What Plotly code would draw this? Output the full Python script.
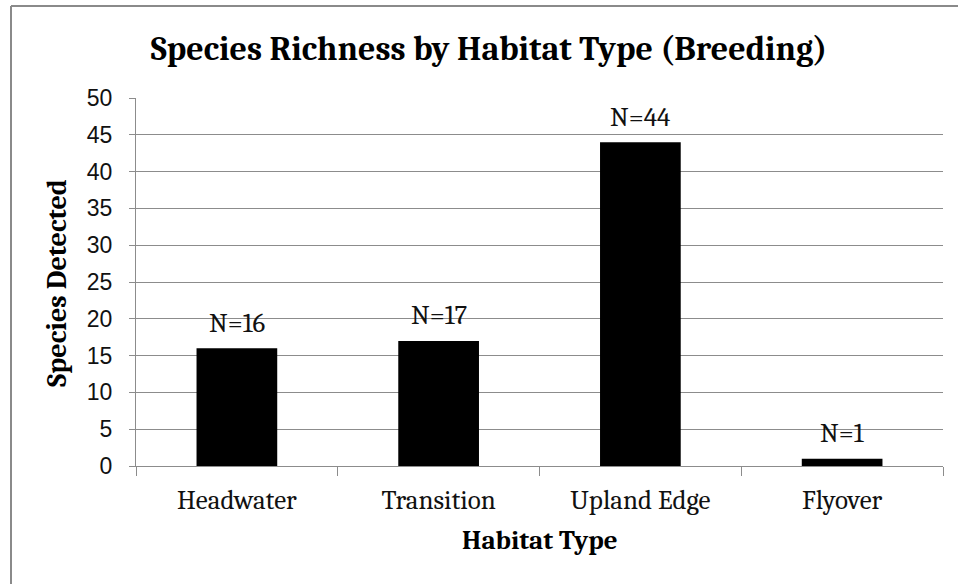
import plotly.graph_objects as go

categories = ["Headwater", "Transition", "Upland Edge", "Flyover"]
species = [16, 17, 44, 1]
labels = ["N=16", "N=17", "N=44", "N=1"]
y_ticks = [0, 5, 10, 15, 20, 25, 30, 35, 40, 45, 50]

SERIF = "Cambria, Caladea, 'DejaVu Serif', serif"
SANS = "'Liberation Sans', Arial, sans-serif"
GRID = "#8c8c8c"

L, R, T, B = 136, 15, 98, 118
PW = 958 - L - R
PH = 584 - T - B

fig = go.Figure()
fig.add_trace(go.Bar(x=categories, y=species, marker=dict(color="black", line=dict(width=0)),
                     hoverinfo="x+y"))

for c, v, t in zip(categories, species, labels):
    fig.add_annotation(x=c, y=v, text=t, showarrow=False, yshift=25,
                       font=dict(family=SERIF, size=27, color="#111"))

fig.update_layout(
    width=958, height=584,
    margin=dict(l=L, r=R, t=T, b=B),
    paper_bgcolor="white", plot_bgcolor="white",
    bargap=0.6,
    showlegend=False,
    title=dict(text="<b>Species Richness by Habitat Type (Breeding)</b>",
               x=489/958, xanchor="center", y=1 - 48/584, yanchor="middle",
               font=dict(family=SERIF, size=34, color="black")),
)
fig.update_xaxes(
    showline=True, linecolor=GRID, linewidth=1,
    ticks="outside", ticklen=9, tickcolor=GRID, tickson="boundaries",
    tickfont=dict(family=SERIF, size=27, color="#111"),
    ticklabelstandoff=10,
    showgrid=False,
)
fig.update_yaxes(
    range=[0, 50], tickvals=y_ticks,
    showline=True, linecolor=GRID, linewidth=1,
    ticks="outside", ticklen=6, tickcolor=GRID,
    showgrid=True, gridcolor=GRID, gridwidth=1,
    zeroline=False,
    tickfont=dict(family=SANS, size=23, color="#111"),
    ticklabelstandoff=12,
)

# axis titles
fig.add_annotation(xref="paper", yref="paper", x=(57 - L) / PW, y=(584 - B - 283) / PH,
                   text="<b>Species Detected</b>", textangle=-90, showarrow=False,
                   xanchor="center", yanchor="middle",
                   font=dict(family=SERIF, size=28, color="black"))
fig.add_annotation(xref="paper", yref="paper", x=(540 - L) / PW, y=(584 - B - 540) / PH,
                   text="<b>Habitat Type</b>", showarrow=False,
                   xanchor="center", yanchor="middle",
                   font=dict(family=SERIF, size=27, color="black"))

# outer chart-area border (top and left edges visible)
top_y = (584 - B - 6) / PH
left_x = (11 - L) / PW
fig.add_shape(type="line", xref="paper", yref="paper",
              x0=left_x, x1=(962 - L) / PW, y0=top_y, y1=top_y,
              line=dict(color="#8a8a8a", width=2))
fig.add_shape(type="line", xref="paper", yref="paper",
              x0=left_x, x1=left_x, y0=top_y, y1=(584 - B - 590) / PH,
              line=dict(color="#8a8a8a", width=2))

fig.write_html("out.html")
